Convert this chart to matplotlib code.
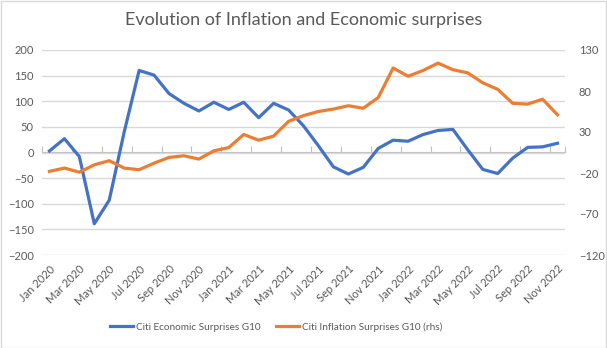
import matplotlib.pyplot as plt
from matplotlib.patches import Rectangle

months = ["Jan 2020", "Feb 2020", "Mar 2020", "Apr 2020", "May 2020", "Jun 2020",
          "Jul 2020", "Aug 2020", "Sep 2020", "Oct 2020", "Nov 2020", "Dec 2020",
          "Jan 2021", "Feb 2021", "Mar 2021", "Apr 2021", "May 2021", "Jun 2021",
          "Jul 2021", "Aug 2021", "Sep 2021", "Oct 2021", "Nov 2021", "Dec 2021",
          "Jan 2022", "Feb 2022", "Mar 2022", "Apr 2022", "May 2022", "Jun 2022",
          "Jul 2022", "Aug 2022", "Sep 2022", "Oct 2022", "Nov 2022"]

eco_surprise = [3, 27, -8, -139, -93, 40, 160, 151, 115, 96, 81, 98,
                84, 98, 68, 96, 83, 52, 13, -28, -42, -29, 8, 24,
                22, 35, 43, 45, 5, -33, -41, -11, 10, 11, 18]

infl_surprise = [-18, -14, -19, -10, -5, -14, -16, -8, -1, 1, -3, 7,
                 11, 27, 20, 25, 43, 50, 55, 58, 62, 59, 72, 108,
                 98, 105, 114, 106, 102, 90, 82, 65, 64, 70, 51]

blue = "#4472C4"
orange = "#ED7D31"
grey = "#595959"

plt.rcParams['font.family'] = ['Lato', 'DejaVu Sans']

fig = plt.figure(figsize=(6.07, 3.48), dpi=100)
ax = fig.add_axes([42 / 607, 1 - 255 / 348, (565 - 42) / 607, 205 / 348])
x = list(range(len(months)))

ax.plot(x, eco_surprise, color=blue, lw=2.3, solid_joinstyle="round", zorder=3,
        label="Citi Economic Surprises G10")
ax.set_ylim(-200, 200)
ax.set_yticks(range(-200, 201, 50))
ax.set_xlim(-0.5, len(months) - 0.5)
ax.grid(axis="y", color="#D9D9D9", lw=1)
ax.set_axisbelow(True)
for s in ax.spines.values():
    s.set_visible(False)
ax.tick_params(axis="y", length=0, labelsize=8, labelcolor=grey, pad=6)
ax.set_xticks(x[::2])
ax.set_xticklabels(months[::2], rotation=45, ha="right", rotation_mode="anchor",
                   fontsize=8, color=grey)
ax.tick_params(axis="x", length=0, pad=6)

# category axis crossing at zero
sec = ax.secondary_xaxis(0.5)
sec.spines["bottom"].set_color("#BFBFBF")
sec.spines["top"].set_color("#BFBFBF")
sec.set_xticks([i - 0.5 for i in x[::2]] + [len(months) - 0.5])
sec.set_xticklabels([])
sec.tick_params(axis="x", length=4, color="#BFBFBF", direction="out",
                labeltop=False, labelbottom=False)

ax2 = ax.twinx()
ax2.plot(x, infl_surprise, color=orange, lw=2.3, solid_joinstyle="round", zorder=3,
         label="Citi Inflation Surprises G10 (rhs)")
ax2.set_ylim(-120, 130)
ax2.set_yticks(range(-120, 131, 50))
for s in ax2.spines.values():
    s.set_visible(False)
ax2.tick_params(axis="y", length=0, labelsize=8, labelcolor=grey, pad=10)

fig.suptitle("Evolution of Inflation and Economic surprises", y=0.965, fontsize=13,
             color=grey)

h1, l1 = ax.get_legend_handles_labels()
h2, l2 = ax2.get_legend_handles_labels()
fig.legend(h1 + h2, l1 + l2, loc="center", bbox_to_anchor=(0.455, 1 - 327 / 348),
           ncol=2, frameon=False, fontsize=7.2, handlelength=2.3, handletextpad=0.3,
           columnspacing=1.6, labelcolor=grey)

fig.patches.append(Rectangle((0.001, 0.001), 0.997, 0.996, transform=fig.transFigure,
                             fill=False, edgecolor="#D9D9D9", lw=1))

fig.savefig("out.png", dpi=100)
